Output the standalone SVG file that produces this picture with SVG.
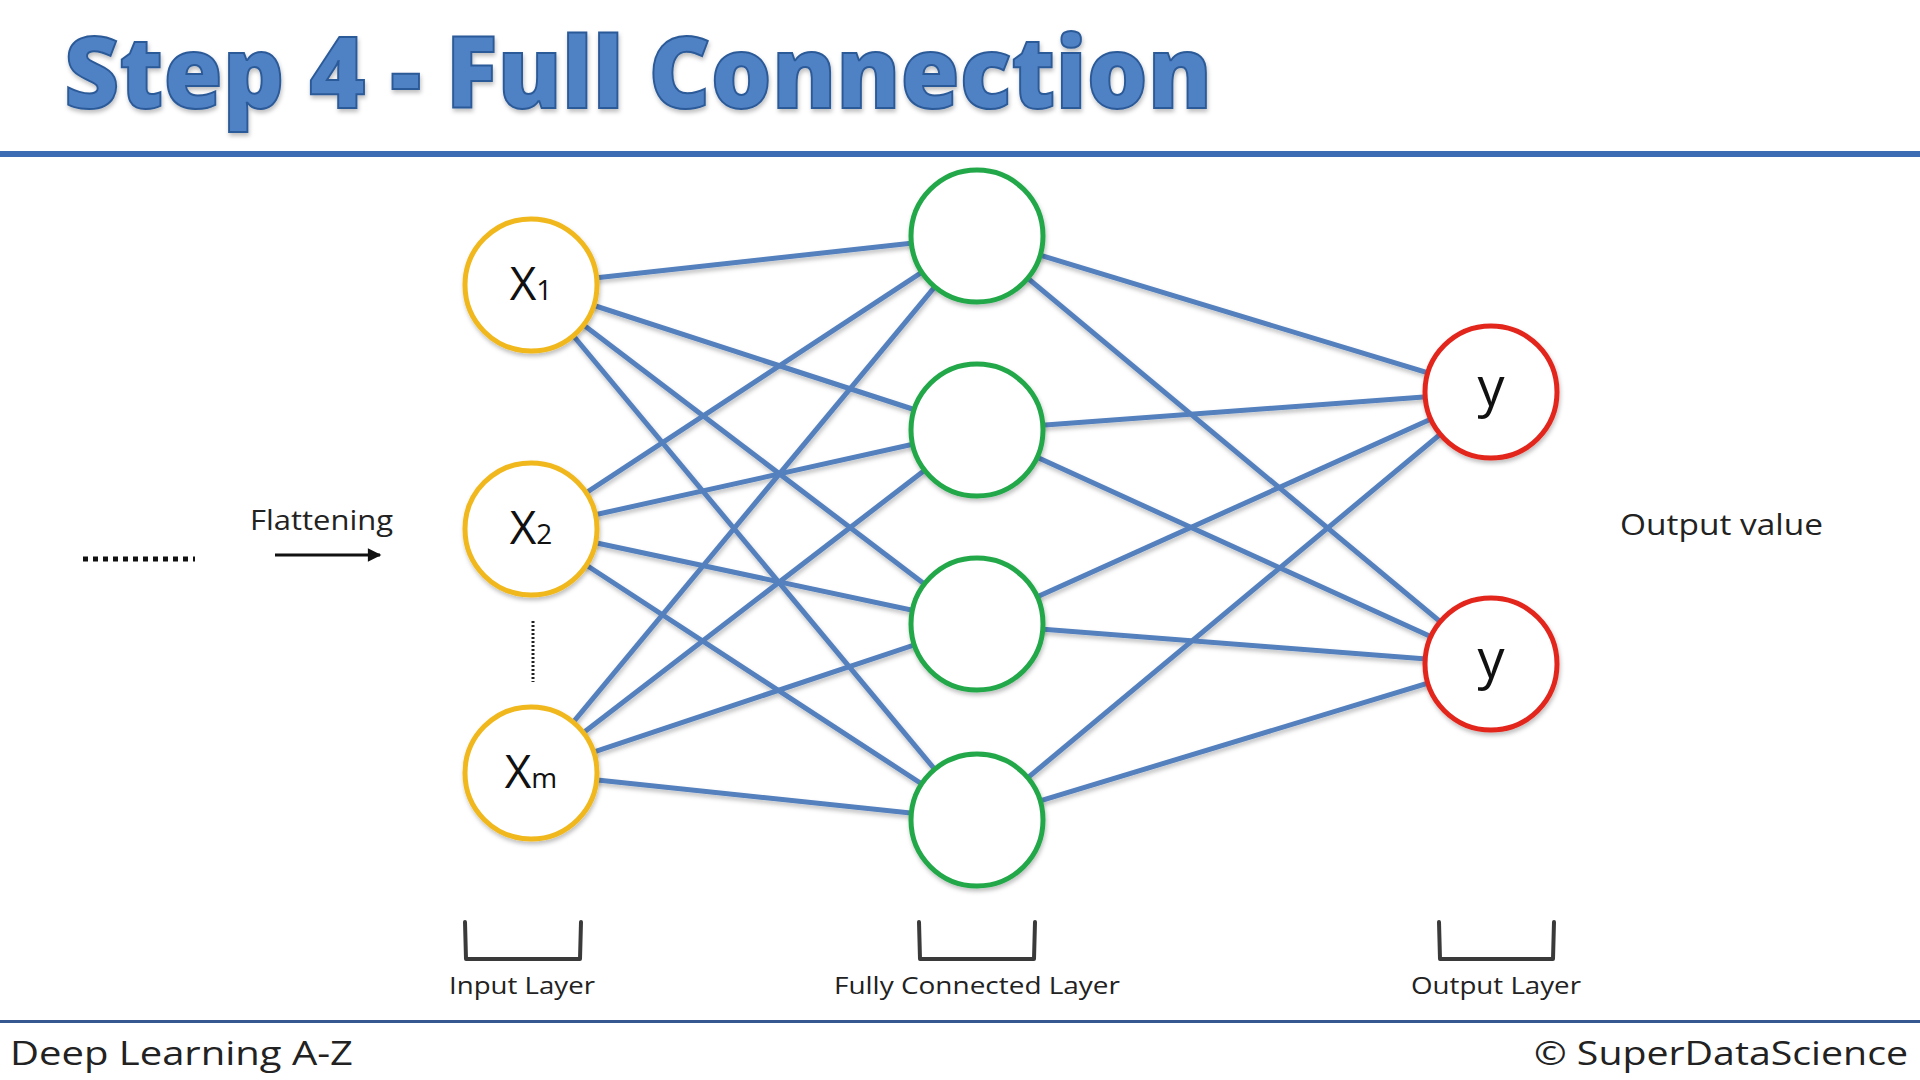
<svg xmlns="http://www.w3.org/2000/svg" width="1920" height="1080" viewBox="0 0 1920 1080">
<defs>
<style>
.lbl{font-family:"Open Sans","Liberation Sans",sans-serif;fill:#222;}
.node{fill:#fff;stroke-width:5;}
.in{stroke:#f0b81c;}
.hid{stroke:#22a84a;}
.out{stroke:#e3261f;}
.conn line{stroke:#5480be;stroke-width:5;}
.brk{fill:none;stroke:#3a3a3a;stroke-width:4;stroke-linejoin:round;stroke-linecap:round;}
.ntext{font-family:"Open Sans","Liberation Sans",sans-serif;fill:#111;text-anchor:middle;}
</style>
<filter id="sh" x="-20%" y="-20%" width="140%" height="140%">
<feDropShadow dx="1" dy="3" stdDeviation="2" flood-color="#000" flood-opacity="0.25"/>
</filter>
<marker id="arr" viewBox="0 0 10 10" refX="9" refY="5" markerWidth="5" markerHeight="4.5" orient="auto" markerUnits="strokeWidth">
<path d="M0,0 L10,5 L0,10 z" fill="#111"/>
</marker>
</defs>
<rect width="1920" height="1080" fill="#fff"/>

<g id="title">
<text x="64" y="108" font-family="'Open Sans','Liberation Sans',sans-serif" font-weight="800" font-size="100" fill="#5081c5" stroke="#2c5a98" stroke-width="2" textLength="1148" lengthAdjust="spacingAndGlyphs" filter="url(#sh)">Step 4 - Full Connection</text>
</g>
<rect x="0" y="151" width="1920" height="6" fill="#3c6db4"/>
<rect x="0" y="1020" width="1920" height="3" fill="#34588f"/>

<g id="connectors" class="conn" filter="url(#sh)">
<line x1="531" y1="285" x2="977" y2="236"/>
<line x1="531" y1="285" x2="977" y2="430"/>
<line x1="531" y1="285" x2="977" y2="624"/>
<line x1="531" y1="285" x2="977" y2="820"/>
<line x1="531" y1="529" x2="977" y2="236"/>
<line x1="531" y1="529" x2="977" y2="430"/>
<line x1="531" y1="529" x2="977" y2="624"/>
<line x1="531" y1="529" x2="977" y2="820"/>
<line x1="531" y1="773" x2="977" y2="236"/>
<line x1="531" y1="773" x2="977" y2="430"/>
<line x1="531" y1="773" x2="977" y2="624"/>
<line x1="531" y1="773" x2="977" y2="820"/>
<line x1="977" y1="236" x2="1491" y2="392"/>
<line x1="977" y1="236" x2="1491" y2="664"/>
<line x1="977" y1="430" x2="1491" y2="392"/>
<line x1="977" y1="430" x2="1491" y2="664"/>
<line x1="977" y1="624" x2="1491" y2="392"/>
<line x1="977" y1="624" x2="1491" y2="664"/>
<line x1="977" y1="820" x2="1491" y2="392"/>
<line x1="977" y1="820" x2="1491" y2="664"/>
</g>

<g id="x1"><circle class="node in" cx="531" cy="285" r="66" filter="url(#sh)"/><text class="ntext" x="531" y="300" font-size="46">X<tspan font-size="28">1</tspan></text></g>
<g id="x2"><circle class="node in" cx="531" cy="529" r="66" filter="url(#sh)"/><text class="ntext" x="531" y="544" font-size="46">X<tspan font-size="28">2</tspan></text></g>
<g id="xm"><circle class="node in" cx="531" cy="773" r="66" filter="url(#sh)"/><text class="ntext" x="531" y="788" font-size="46">X<tspan font-size="28">m</tspan></text></g>
<line x1="533" y1="621" x2="533" y2="682" stroke="#222" stroke-width="3" stroke-dasharray="2 2"/>

<g id="h1"><circle class="node hid" cx="977" cy="236" r="66" filter="url(#sh)"/></g>
<g id="h2"><circle class="node hid" cx="977" cy="430" r="66" filter="url(#sh)"/></g>
<g id="h3"><circle class="node hid" cx="977" cy="624" r="66" filter="url(#sh)"/></g>
<g id="h4"><circle class="node hid" cx="977" cy="820" r="66" filter="url(#sh)"/></g>

<g id="y1"><circle class="node out" cx="1491" cy="392" r="66" filter="url(#sh)"/><text class="ntext" x="1491" y="406" font-size="54">y</text></g>
<g id="y2"><circle class="node out" cx="1491" cy="664" r="66" filter="url(#sh)"/><text class="ntext" x="1491" y="678" font-size="54">y</text></g>

<g id="flatten">
<line x1="83" y1="559" x2="195" y2="559" stroke="#111" stroke-width="5" stroke-dasharray="5 5"/>
<text class="lbl" x="250" y="530" font-size="28" textLength="143" lengthAdjust="spacingAndGlyphs">Flattening</text>
<line x1="275" y1="555" x2="380" y2="555" stroke="#111" stroke-width="3" marker-end="url(#arr)"/>
</g>

<g id="outval"><text class="lbl" x="1620" y="535" font-size="30" textLength="203" lengthAdjust="spacingAndGlyphs">Output value</text></g>

<g id="brackets">
<path class="brk" d="M465,922 L466,959 L580,959 L581,922"/>
<path class="brk" d="M919,922 L920,959 L1034,959 L1035,922"/>
<path class="brk" d="M1439,922 L1440,959 L1553,959 L1554,922"/>
</g>
<g id="layerlabels">
<text class="lbl" x="449" y="994" font-size="24" textLength="146" lengthAdjust="spacingAndGlyphs">Input Layer</text>
<text class="lbl" x="834" y="994" font-size="24" textLength="286" lengthAdjust="spacingAndGlyphs">Fully Connected Layer</text>
<text class="lbl" x="1411" y="994" font-size="24" textLength="170" lengthAdjust="spacingAndGlyphs">Output Layer</text>
</g>

<g id="footer">
<text class="lbl" x="10" y="1065" font-size="33" textLength="343" lengthAdjust="spacingAndGlyphs">Deep Learning A-Z</text>
<text class="lbl" x="1534" y="1065" font-size="33" textLength="374" lengthAdjust="spacingAndGlyphs">© SuperDataScience</text>
</g>
</svg>
